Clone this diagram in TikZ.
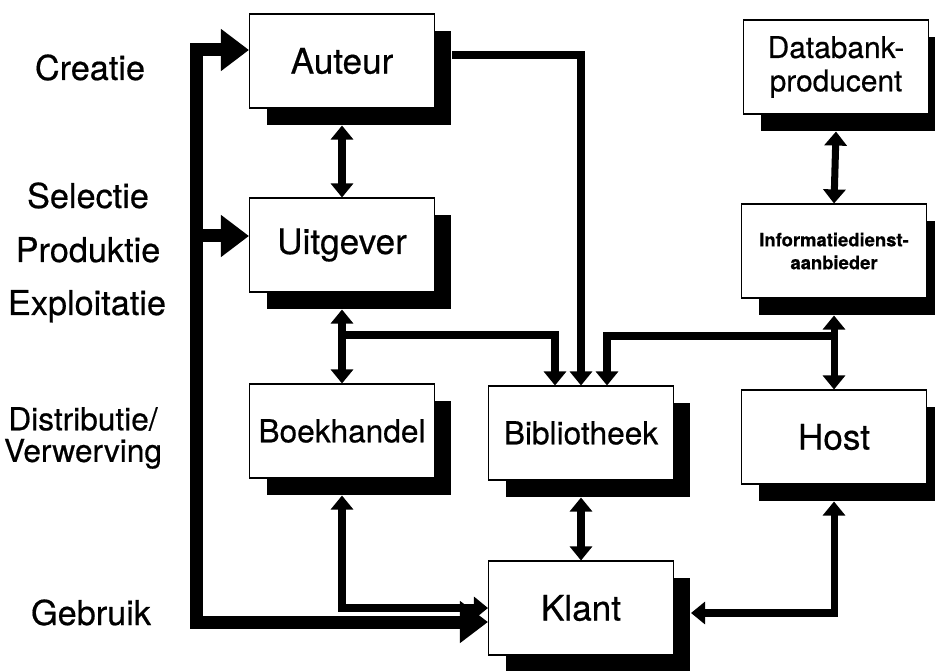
\documentclass[tikz,border=0pt]{standalone}
\usepackage{fontspec}
\setmainfont{TeX Gyre Heros}[FakeBold=0.5]
\usetikzlibrary{positioning,arrows.meta,calc,shadows}
\tikzset{
  tip/.tip={Triangle[length=8pt,width=12.5pt]},
  bigtip/.tip={Triangle[length=16pt,width=23pt]},
  flow/.style={-tip,line width=4pt},
  dflow/.style={tip-tip,line width=4pt},
  bigflow/.style={line width=7.4pt},
  box/.style={draw,line width=0.6pt,fill=white,minimum width=3.7cm,
    minimum height=1.88cm,inner sep=0pt,align=center,
    font=\fontsize{20}{24}\selectfont,
    drop shadow={shadow xshift=0.34cm,shadow yshift=-0.34cm,fill=black,opacity=1}},
  stage/.style={align=center,font=\fontsize{19.5}{18.5}\selectfont}
}
\begin{document}
\begin{tikzpicture}[x=0.02cm,y=-0.02cm]
  \useasboundingbox (0,0) rectangle (935,671);

  \node[stage,anchor=base] (creatie) at (90,80) {Creatie};
  \node[stage,anchor=base] (selectie) at (88,208) {Selectie};
  \node[stage,anchor=base] (produktie) at (88,262) {Produktie};
  \node[stage,anchor=base] (exploitatie) at (87,315) {Exploitatie};
  \node[stage,font=\fontsize{18}{18}\selectfont] (distributie) at (83,438) {Distributie/\\Verwerving};
  \node[stage,anchor=base] (gebruik) at (91,625) {Gebruik};

  \node[box] (auteur) at (342,61) {Auteur};
  \node[box] (uitgever) at (342,245) {Uitgever};
  \node[box,font=\fontsize{18}{22}\selectfont] (boekhandel) at (342,431) {Boekhandel};
  \node[box,font=\fontsize{18}{22}\selectfont] (bibliotheek) at (581,433) {Bibliotheek};
  \node[box] (klant) at (581,608) {Klant};
  \node[box] (host) at (834,437) {Host};
  \node[box,font=\fontsize{17}{19}\selectfont] (databank) at (836,67) {Databank-\\producent};
  \node[box,font=\fontsize{10.5}{13}\selectfont\bfseries] (aanbieder) at (834,251) {Informatiedienst-\\aanbieder};

  \coordinate (bustop) at (196,50);
  \coordinate (busmid) at (196,236);
  \coordinate (busbot) at (196,622);
  \coordinate (links) at (342,335);
  \coordinate (rechts) at (834,336);

  \draw[bigflow,bigtip-bigtip] (auteur.west |- bustop) -- (bustop) -- (busbot) -- (klant.west |- busbot);
  \draw[bigflow,-bigtip] (busmid) -- (uitgever.west |- busmid);

  \draw[dflow] ($(auteur.south)+(0,17)$) -- (uitgever.north);
  \draw[flow] ($(auteur.east)+(17,-6)$) -| (bibliotheek.north);
  \draw[dflow] ($(uitgever.south)+(0,17)$) -- (boekhandel.north);
  \draw[flow] (links) -| ($(bibliotheek.north)+(-26,0)$);
  \draw[dflow] ($(databank.south)+(0,17)$) -- (aanbieder.north);
  \draw[dflow] ($(aanbieder.south)+(0,17)$) -- (host.north);
  \draw[flow] (rechts) -| ($(bibliotheek.north)+(26,0)$);
  \draw[dflow] ($(bibliotheek.south)+(0,17)$) -- (klant.north);
  \draw[dflow] ($(boekhandel.south)+(0,17)$) |- (klant.west);
  \draw[dflow] ($(host.south)+(0,17)$) |- ($(klant.east)+(17,5)$);
\end{tikzpicture}
\end{document}
